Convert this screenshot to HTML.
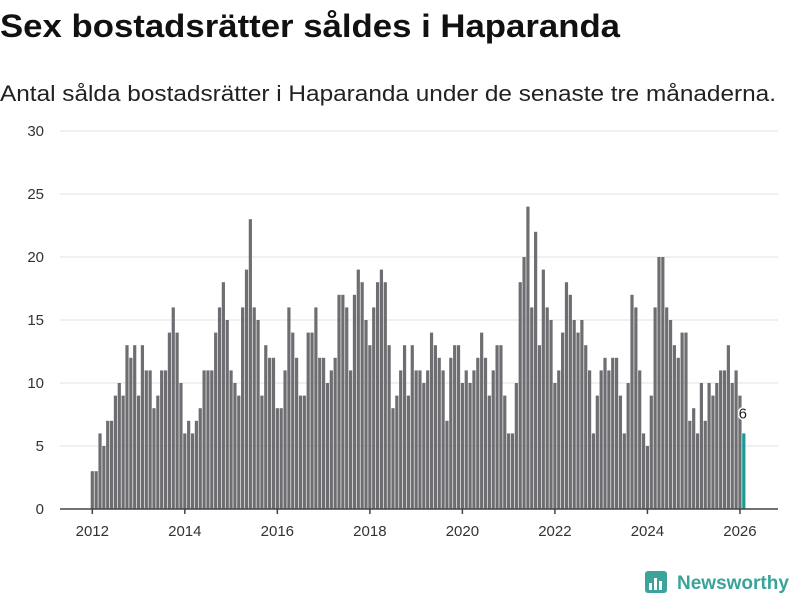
<!DOCTYPE html>
<html><head><meta charset="utf-8"><style>
body{margin:0;background:#fff;}
svg{display:block;font-family:"Liberation Sans",sans-serif;}
</style></head><body>
<svg id="chart" width="800" height="600" viewBox="0 0 800 600">
<text x="0" y="37" font-size="32" font-weight="bold" fill="#111" textLength="620" lengthAdjust="spacingAndGlyphs">Sex bostadsrätter såldes i Haparanda</text>
<text x="0" y="101" font-size="22" fill="#222" textLength="776" lengthAdjust="spacingAndGlyphs">Antal sålda bostadsrätter i Haparanda under de senaste tre månaderna.</text>
<g id="grid"></g><g id="bars"></g><g id="axis"></g>
<g>
<rect x="645" y="571" width="22" height="22" rx="3" fill="#3aa39a"/>
<rect x="649" y="583" width="3" height="7" fill="#fff"/><rect x="654" y="578" width="3" height="12" fill="#fff"/><rect x="659" y="581" width="3" height="9" fill="#fff"/>
<text x="677" y="589" font-size="19" font-weight="bold" fill="#3aa39a">Newsworthy</text>
</g>
</svg>
<script>
const startYear = 2012;
const values = [
3,3,6,5,7,7,9,10,9,13,12,13,
9,13,11,11,8,9,11,11,14,16,14,10,
6,7,6,7,8,11,11,11,14,16,18,15,
11,10,9,16,19,23,16,15,9,13,12,12,
8,8,11,16,14,12,9,9,14,14,16,12,
12,10,11,12,17,17,16,11,17,19,18,15,
13,16,18,19,18,13,8,9,11,13,9,13,
11,11,10,11,14,13,12,11,7,12,13,13,
10,11,10,11,12,14,12,9,11,13,13,9,
6,6,10,18,20,24,16,22,13,19,16,15,
10,11,14,18,17,15,14,15,13,11,6,9,
11,12,11,12,12,9,6,10,17,16,11,6,
5,9,16,20,20,16,15,13,12,14,14,7,
8,6,10,7,10,9,10,11,11,13,10,11,
9,6];
const yTicks = [0,5,10,15,20,25,30];
const xTicks = [2012,2014,2016,2018,2020,2022,2024,2026];
const NS="http://www.w3.org/2000/svg";
const x0=92.3, perMonth=3.855, y0=509, perUnit=12.6;
const xs = m => x0 + m*perMonth;
const ys = v => y0 - v*perUnit;
function mk(t,a){const e=document.createElementNS(NS,t);for(const k in a)e.setAttribute(k,a[k]);return e;}
const grid=document.getElementById('grid');
yTicks.forEach(v=>{
  if(v>0){const l=mk('line',{x1:60,x2:778,y1:ys(v),y2:ys(v),stroke:'#e2e2e2','stroke-width':1});
  
  
  grid.appendChild(l);}
  const t=mk('text',{x:44,y:ys(v)+5,'text-anchor':'end','font-size':15,fill:'#333'});
  t.textContent=v;
  
  
  grid.appendChild(t);
});
const bars=document.getElementById('bars');
values.forEach((v,i)=>{
  const last=i===values.length-1;
  const r=mk('rect',{x:xs(i)-1.6,y:ys(v),width:3.2,height:v*perUnit,fill:last?'#1a9a93':'#6e6e72'});
  
  
  bars.appendChild(r);
  if(last){const t=mk('text',{x:xs(i)-1,y:ys(v)-15,'text-anchor':'middle','font-size':15,fill:'#222',stroke:'#fff','stroke-width':3,'paint-order':'stroke'});
  t.textContent=v;
  
  
  bars.appendChild(t);}
});
const axis=document.getElementById('axis');
const al=mk('line',{x1:60,x2:778,y1:y0,y2:y0,stroke:'#444','stroke-width':1.5});


axis.appendChild(al);
xTicks.forEach(yr=>{
  const x=xs((yr-startYear)*12);
  const l=mk('line',{x1:x,x2:x,y1:y0,y2:y0+5,stroke:'#444','stroke-width':1.5});
  
  
  axis.appendChild(l);
  const t=mk('text',{x:x,y:536,'text-anchor':'middle','font-size':15,fill:'#333'});
  t.textContent=yr;
  
  
  axis.appendChild(t);
});
</script>
</body></html>
